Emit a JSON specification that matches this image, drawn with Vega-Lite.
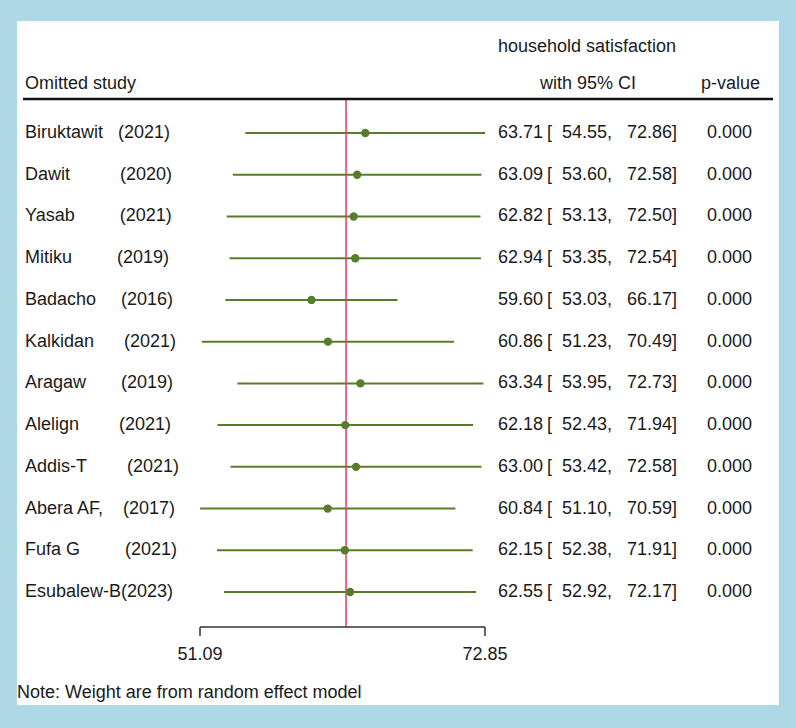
{
  "$schema": "https://vega.github.io/schema/vega-lite/v6.json",
  "width": 796,
  "height": 728,
  "autosize": {"type": "fit", "contains": "padding"},
  "padding": {"left": 17, "top": 21, "right": 17, "bottom": 23},
  "background": "#add8e6",
  "config": {
    "view": {"fill": "white", "stroke": null},
    "axis": {"disable": true},
    "text": {"font": "Liberation Sans", "fontSize": 18, "color": "#1a1a1a", "baseline": "middle"}
  },
  "datasets": {
    "studies": [
      {"row": 1, "study": "Biruktawit\u00a0\u00a0\u00a0(2021)", "es": 63.71, "lo": 54.55, "hi": 72.86, "p": 0.000},
      {"row": 2, "study": "Dawit\u00a0\u00a0\u00a0\u00a0\u00a0\u00a0\u00a0\u00a0\u00a0\u00a0(2020)", "es": 63.09, "lo": 53.60, "hi": 72.58, "p": 0.000},
      {"row": 3, "study": "Yasab\u00a0\u00a0\u00a0\u00a0\u00a0\u00a0\u00a0\u00a0\u00a0(2021)", "es": 62.82, "lo": 53.13, "hi": 72.50, "p": 0.000},
      {"row": 4, "study": "Mitiku\u00a0\u00a0\u00a0\u00a0\u00a0\u00a0\u00a0\u00a0\u00a0(2019)", "es": 62.94, "lo": 53.35, "hi": 72.54, "p": 0.000},
      {"row": 5, "study": "Badacho\u00a0\u00a0\u00a0\u00a0\u00a0(2016)", "es": 59.60, "lo": 53.03, "hi": 66.17, "p": 0.000},
      {"row": 6, "study": "Kalkidan\u00a0\u00a0\u00a0\u00a0\u00a0\u00a0(2021)", "es": 60.86, "lo": 51.23, "hi": 70.49, "p": 0.000},
      {"row": 7, "study": "Aragaw\u00a0\u00a0\u00a0\u00a0\u00a0\u00a0\u00a0(2019)", "es": 63.34, "lo": 53.95, "hi": 72.73, "p": 0.000},
      {"row": 8, "study": "Alelign\u00a0\u00a0\u00a0\u00a0\u00a0\u00a0\u00a0\u00a0(2021)", "es": 62.18, "lo": 52.43, "hi": 71.94, "p": 0.000},
      {"row": 9, "study": "Addis-T\u00a0\u00a0\u00a0\u00a0\u00a0\u00a0\u00a0\u00a0(2021)", "es": 63.00, "lo": 53.42, "hi": 72.58, "p": 0.000},
      {"row": 10, "study": "Abera AF,\u00a0\u00a0\u00a0\u00a0(2017)", "es": 60.84, "lo": 51.10, "hi": 70.59, "p": 0.000},
      {"row": 11, "study": "Fufa G\u00a0\u00a0\u00a0\u00a0\u00a0\u00a0\u00a0\u00a0\u00a0(2021)", "es": 62.15, "lo": 52.38, "hi": 71.91, "p": 0.000},
      {"row": 12, "study": "Esubalew-B(2023)", "es": 62.55, "lo": 52.92, "hi": 72.17, "p": 0.000}
    ],
    "ticks": [{"tick": 51.09}, {"tick": 72.85}],
    "one": [{}]
  },
  "data": {"name": "studies"},
  "layer": [
    {
      "mark": {"type": "rule", "color": "#577d2b", "strokeWidth": 2},
      "encoding": {
        "x": {"field": "lo", "type": "quantitative", "scale": {"domain": [37.117, 95.298], "nice": false, "zero": false}},
        "x2": {"field": "hi"},
        "y": {"field": "row", "type": "quantitative", "scale": {"domain": [-1.684, 14.707], "nice": false, "zero": false, "reverse": true}}
      }
    },
    {
      "data": {"name": "one"},
      "mark": {"type": "rule", "color": "#e33d63", "strokeWidth": 1.5},
      "encoding": {
        "x": {"datum": 62.24, "type": "quantitative"},
        "y": {"datum": 0.185, "type": "quantitative"},
        "y2": {"datum": 12.838}
      }
    },
    {
      "mark": {"type": "circle", "color": "#577d2b", "opacity": 1, "size": 70},
      "encoding": {
        "x": {"field": "es", "type": "quantitative"},
        "y": {"field": "row", "type": "quantitative"}
      }
    },
    {
      "data": {"name": "one"},
      "mark": {"type": "rule", "color": "#111111", "strokeWidth": 2.5},
      "encoding": {
        "x": {"datum": 37.575, "type": "quantitative"},
        "x2": {"datum": 94.84},
        "y": {"datum": 0.185, "type": "quantitative"}
      }
    },
    {
      "data": {"name": "one"},
      "mark": {"type": "rule", "color": "#333333", "strokeWidth": 1.5},
      "encoding": {
        "x": {"datum": 51.09, "type": "quantitative"},
        "x2": {"datum": 72.85},
        "y": {"datum": 12.838, "type": "quantitative"}
      }
    },
    {
      "data": {"name": "ticks"},
      "mark": {"type": "rule", "color": "#333333", "strokeWidth": 1.5},
      "encoding": {
        "x": {"field": "tick", "type": "quantitative"},
        "y": {"datum": 12.838, "type": "quantitative"},
        "y2": {"datum": 13.054}
      }
    },
    {
      "data": {"name": "ticks"},
      "mark": {"type": "text", "align": "center"},
      "encoding": {
        "x": {"field": "tick", "type": "quantitative"},
        "y": {"datum": 13.509, "type": "quantitative"},
        "text": {"field": "tick", "type": "quantitative", "format": ".2f"}
      }
    },
    {
      "mark": {"type": "text", "align": "left"},
      "encoding": {
        "x": {"datum": 37.728, "type": "quantitative"},
        "y": {"field": "row", "type": "quantitative"},
        "text": {"field": "study"}
      }
    },
    {
      "mark": {"type": "text", "align": "right"},
      "encoding": {
        "x": {"datum": 77.279, "type": "quantitative"},
        "y": {"field": "row", "type": "quantitative"},
        "text": {"field": "es", "type": "quantitative", "format": ".2f"}
      }
    },
    {
      "transform": [{"calculate": "'[\u00a0\u00a0' + format(datum.lo, '.2f') + ','", "as": "lo_txt"}],
      "mark": {"type": "text", "align": "right"},
      "encoding": {
        "x": {"datum": 82.547, "type": "quantitative"},
        "y": {"field": "row", "type": "quantitative"},
        "text": {"field": "lo_txt"}
      }
    },
    {
      "transform": [{"calculate": "format(datum.hi, '.2f') + ']'", "as": "hi_txt"}],
      "mark": {"type": "text", "align": "right"},
      "encoding": {
        "x": {"datum": 87.51, "type": "quantitative"},
        "y": {"field": "row", "type": "quantitative"},
        "text": {"field": "hi_txt"}
      }
    },
    {
      "mark": {"type": "text", "align": "right"},
      "encoding": {
        "x": {"datum": 93.237, "type": "quantitative"},
        "y": {"field": "row", "type": "quantitative"},
        "text": {"field": "p", "type": "quantitative", "format": ".3f"}
      }
    },
    {
      "data": {"name": "one"},
      "mark": {"type": "text", "align": "center"},
      "encoding": {
        "x": {"datum": 80.638, "type": "quantitative"},
        "y": {"datum": -1.061, "type": "quantitative"},
        "text": {"value": "household satisfaction"}
      }
    },
    {
      "data": {"name": "one"},
      "mark": {"type": "text", "align": "center"},
      "encoding": {
        "x": {"datum": 80.714, "type": "quantitative"},
        "y": {"datum": -0.174, "type": "quantitative"},
        "text": {"value": "with 95% CI"}
      }
    },
    {
      "data": {"name": "one"},
      "mark": {"type": "text", "align": "right"},
      "encoding": {
        "x": {"datum": 93.848, "type": "quantitative"},
        "y": {"datum": -0.174, "type": "quantitative"},
        "text": {"value": "p-value"}
      }
    },
    {
      "data": {"name": "one"},
      "mark": {"type": "text", "align": "left"},
      "encoding": {
        "x": {"datum": 37.728, "type": "quantitative"},
        "y": {"datum": -0.174, "type": "quantitative"},
        "text": {"value": "Omitted study"}
      }
    },
    {
      "data": {"name": "one"},
      "mark": {"type": "text", "align": "left"},
      "encoding": {
        "x": {"datum": 37.117, "type": "quantitative"},
        "y": {"datum": 14.42, "type": "quantitative"},
        "text": {"value": "Note: Weight are from random effect model"}
      }
    }
  ]
}
